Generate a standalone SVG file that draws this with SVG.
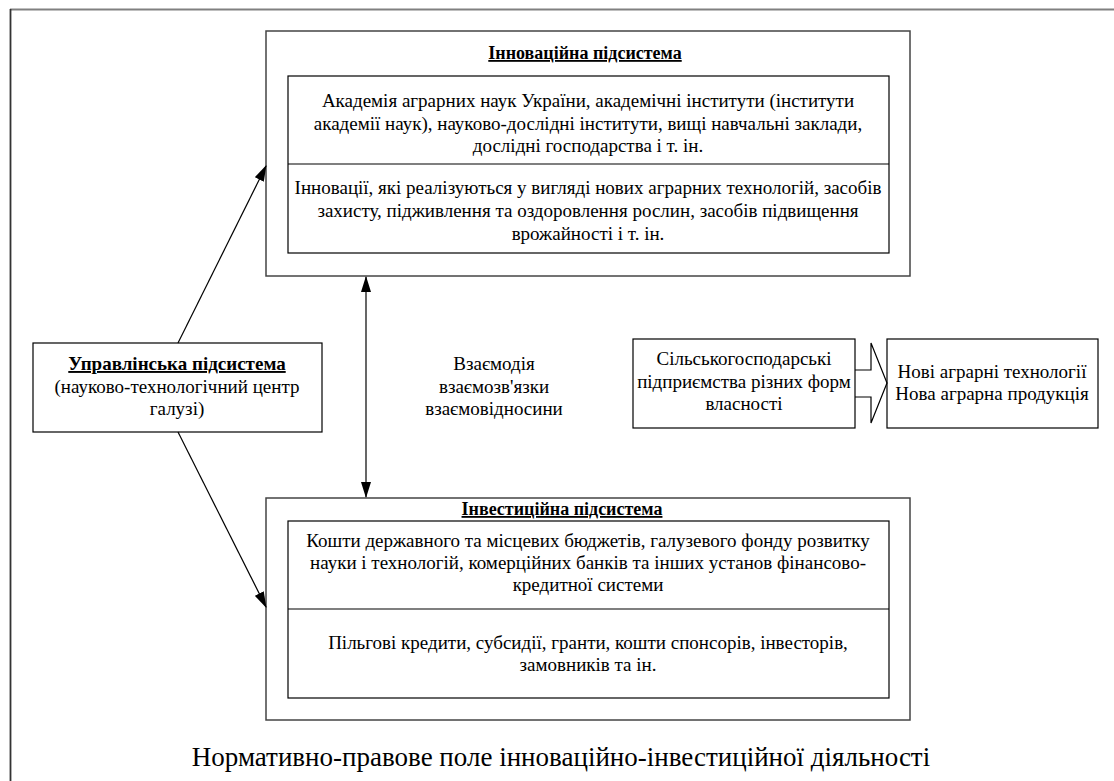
<svg xmlns="http://www.w3.org/2000/svg" width="1114" height="781" viewBox="0 0 1114 781">
<style>
text{font-family:"Liberation Serif","Times New Roman",serif;fill:#000;text-anchor:middle}
.t{font-size:19px}
.h{font-size:18px;font-weight:bold;text-decoration:underline}
.hm{font-size:19px;font-weight:bold;text-decoration:underline}
.big{font-size:27px}
.box{fill:#fff;stroke:#000;stroke-width:1.2}
.obox{fill:#fff;stroke:#444;stroke-width:1.5}
.ln{stroke:#000;stroke-width:1.2;fill:none}
</style>
<defs>
<marker id="ah" markerUnits="userSpaceOnUse" markerWidth="16" markerHeight="10" refX="15" refY="5" orient="auto-start-reverse" viewBox="0 0 16 10">
<path d="M0,0 L16,5 L0,10 Z" fill="#000"/>
</marker>
</defs>
<rect width="1114" height="781" fill="#fff"/>
<g id="frame">
<line x1="10" y1="9.5" x2="1114" y2="9.5" stroke="#808080" stroke-width="2"/>
<line x1="10.5" y1="9" x2="10.5" y2="781" stroke="#333" stroke-width="1.8"/>
</g>
<g id="innovation">
<rect class="obox" x="266" y="31" width="644" height="245"/>
<text class="h" x="585" y="59">Інноваційна підсистема</text>
<rect class="box" x="288" y="76" width="601" height="177"/>
<line class="ln" x1="288" y1="164" x2="889" y2="164"/>
<text class="t" x="588" y="107">Академія аграрних наук України, академічні інститути (інститути</text>
<text class="t" x="588" y="130">академії наук), науково-дослідні інститути, вищі навчальні заклади,</text>
<text class="t" x="588" y="152">дослідні господарства і т. ін.</text>
<text class="t" x="588" y="194">Інновації, які реалізуються у вигляді нових аграрних технологій, засобів</text>
<text class="t" x="588" y="217">захисту, підживлення та оздоровлення рослин, засобів підвищення</text>
<text class="t" x="588" y="240">врожайності і т. ін.</text>
</g>
<g id="investment">
<rect class="obox" x="266" y="498" width="644" height="222"/>
<text class="h" x="562" y="515">Інвестиційна підсистема</text>
<rect class="box" x="288" y="521" width="601" height="177"/>
<line class="ln" x1="288" y1="609" x2="889" y2="609"/>
<text class="t" x="588" y="547">Кошти державного та місцевих бюджетів, галузевого фонду розвитку</text>
<text class="t" x="588" y="569">науки і технологій, комерційних банків та інших установ фінансово-</text>
<text class="t" x="588" y="591">кредитної системи</text>
<text class="t" x="588" y="649">Пільгові кредити, субсидії, гранти, кошти спонсорів, інвесторів,</text>
<text class="t" x="588" y="671">замовників та ін.</text>
</g>
<g id="management">
<rect class="box" x="33" y="343" width="289" height="89"/>
<text class="hm" x="177" y="370">Управлінська підсистема</text>
<text class="t" x="177" y="393">(науково-технологічний центр</text>
<text class="t" x="177" y="415">галузі)</text>
</g>
<g id="interaction">
<text class="t" x="494" y="370">Взаємодія</text>
<text class="t" x="494" y="393">взаємозв'язки</text>
<text class="t" x="494" y="415">взаємовідносини</text>
</g>
<g id="enterprises">
<rect class="box" x="633" y="339" width="222" height="89"/>
<text class="t" x="744" y="365">Сільськогосподарські</text>
<text class="t" x="744" y="388">підприємства різних форм</text>
<text class="t" x="744" y="410">власності</text>
</g>
<g id="results">
<rect class="box" x="887" y="339" width="211" height="89"/>
<text class="t" x="992" y="378">Нові аграрні технології</text>
<text class="t" x="992" y="400">Нова аграрна продукція</text>
</g>
<g id="connectors">
<line class="ln" x1="178" y1="343" x2="266" y2="166" marker-end="url(#ah)"/>
<line class="ln" x1="178" y1="432" x2="266" y2="607" marker-end="url(#ah)"/>
<line class="ln" x1="366" y1="277" x2="366" y2="497" marker-start="url(#ah)" marker-end="url(#ah)"/>
<path class="ln" fill="#fff" d="M855,370 H871 V343 L887,383 L871,423 V397 H855"/>
</g>
<g id="footer">
<text class="big" x="561" y="766">Нормативно-правове поле інноваційно-інвестиційної діяльності</text>
</g>
</svg>
